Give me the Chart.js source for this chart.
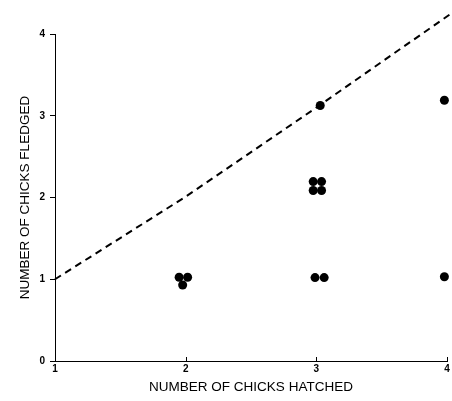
<!DOCTYPE html>
<html>
<head>
<meta charset="utf-8">
<script src="https://cdn.jsdelivr.net/npm/chart.js@4"></script>
<style>
html,body{margin:0;padding:0;background:#fff;}
#wrap{width:452px;height:401px;}
</style>
</head>
<body>
<div id="wrap"><canvas id="c" width="452" height="401"></canvas></div>
<script>
// Data
const hatchedValues = [1.95, 2.015, 1.977, 2.99, 3.06, 3.98, 3.03, 3.98, 2.976, 3.04, 2.976, 3.04];
const fledgedValues = [1.025, 1.025, 0.93, 1.02, 1.02, 1.03, 3.125, 3.19, 2.195, 2.195, 2.085, 2.085];
const lineX = [1, 2, 3, 4.04];
const lineY = [1, 2.01, 3.1, 4.26];
const xTicks = [1, 2, 3, 4];
const yTicks = [0, 1, 2, 3, 4];
const xTitle = 'NUMBER OF CHICKS HATCHED';
const yTitle = 'NUMBER OF CHICKS FLEDGED';

const points = hatchedValues.map((x, i) => ({x: x, y: fledgedValues[i]}));
const linePts = lineX.map((x, i) => ({x: x, y: lineY[i]}));

const innerTicks = {
  id: 'innerTicks',
  afterDraw(chart) {
    const xs = chart.scales.x, ctx = chart.ctx;
    ctx.save();
    ctx.strokeStyle = '#000';
    ctx.lineWidth = 1;
    xTicks.forEach(v => {
      const px = Math.round(xs.getPixelForValue(v)) + 0.5;
      ctx.beginPath();
      ctx.moveTo(px, xs.top);
      ctx.lineTo(px, xs.top - 4);
      ctx.stroke();
    });
    ctx.restore();
  }
};

new Chart(document.getElementById('c'), {
  type: 'scatter',
  data: {
    datasets: [
      {
        data: linePts,
        showLine: true,
        clip: false,
        borderColor: '#000',
        borderWidth: 2,
        borderDash: [7, 5],
        pointRadius: 0,
        fill: false
      },
      {
        data: points,
        clip: false,
        pointRadius: 4.5,
        pointBackgroundColor: '#000',
        pointBorderColor: '#000',
        pointBorderWidth: 0,
        showLine: false
      }
    ]
  },
  options: {
    responsive: false,
    animation: false,
    devicePixelRatio: 1,
    layout: {padding: {top: 34, right: 5, left: 0, bottom: 0}},
    plugins: {legend: {display: false}, tooltip: {enabled: false}},
    scales: {
      x: {
        type: 'linear',
        min: 1, max: 4,
        afterBuildTicks: s => { s.ticks = xTicks.map(v => ({value: v})); },
        afterFit: s => { s.height = 40; },
        grid: {display: true, drawOnChartArea: false, drawTicks: false, color: '#000'},
        border: {display: true, color: '#000', width: 1},
        ticks: {color: '#000', padding: 2, font: {family: 'Liberation Sans', size: 10, weight: 'bold'}},
        title: {display: true, text: xTitle, color: '#000', padding: {top: 0, bottom: 6}, font: {family: 'Liberation Sans', size: 13.5}}
      },
      y: {
        type: 'linear',
        min: 0, max: 4,
        afterBuildTicks: s => { s.ticks = yTicks.map(v => ({value: v})); },
        afterFit: s => { s.width = 55; },
        grid: {display: true, drawOnChartArea: false, drawTicks: true, tickLength: 5, color: '#000'},
        border: {display: true, color: '#000', width: 1},
        ticks: {color: '#000', padding: 5, font: {family: 'Liberation Sans', size: 10, weight: 'bold'}},
        title: {display: true, text: yTitle, color: '#000', padding: {top: 17, bottom: 0}, font: {family: 'Liberation Sans', size: 13.5}}
      }
    }
  },
  plugins: [innerTicks]
});
</script>
</body>
</html>
